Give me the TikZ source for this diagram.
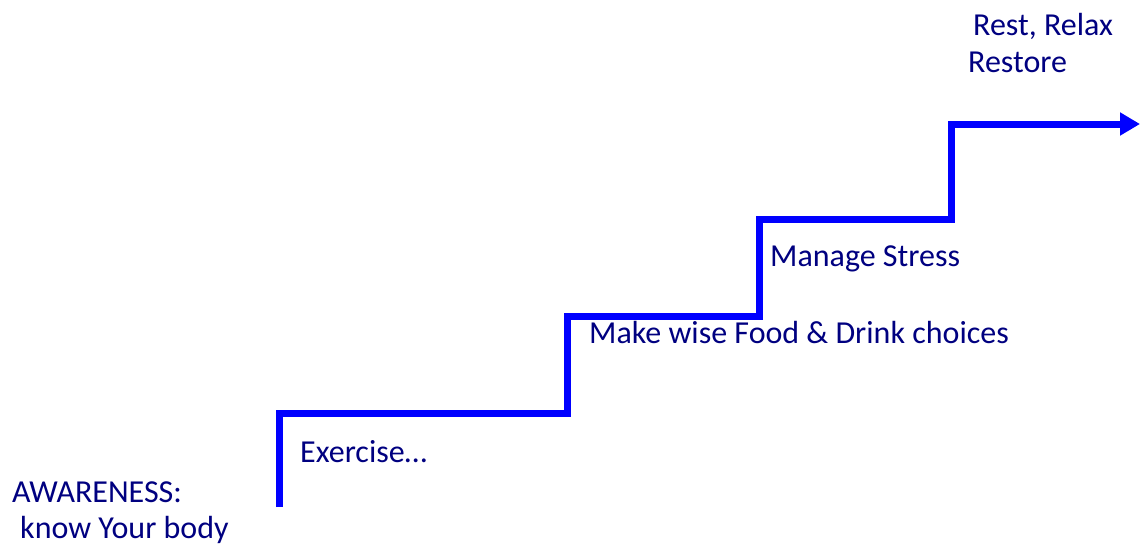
\documentclass[tikz,border=0pt]{standalone}
\usepackage{fontspec}
\setmainfont{Carlito}
\usepackage{tikz}
\usetikzlibrary{arrows.meta,positioning}
\definecolor{stairblue}{RGB}{0,0,255}
\definecolor{textnavy}{RGB}{0,0,128}

\begin{document}
\begin{tikzpicture}[
		x=1pt,y=-1pt,
		font=\fontsize{32}{38}\selectfont,
		label/.style={text=textnavy,anchor=base west,inner sep=0pt,align=left},
		stairs/.style={draw=stairblue,line width=7pt,line join=miter,
			-{Triangle[length=20pt,width=22pt]}}]
		\useasboundingbox (0,0) rectangle (1140,550);
		
		% Stair corners
		\draw
		(279,507) coordinate (s0)
		(279,413) coordinate (s1)
		(567,413) coordinate (s2)
		(567,316) coordinate (s3)
		(759,316) coordinate (s4)
		(759,219) coordinate (s5)
		(951,219) coordinate (s6)
		(951,124) coordinate (s7)
		(1140,124) coordinate (s8);
		
		\draw[stairs] (s0) -- (s1) -- (s2) -- (s3) -- (s4) -- (s5) -- (s6) -- (s7) -- (s8);
		
		% Step labels
		\node[label] (aware) at (12,502) {AWARENESS:};
		\node[label] (body) at (20,538) {know Your body};
		\node[label] (exercise) at (300,462) {Exercise…};
		\node[label] (food) at (589,343) {Make wise Food \& Drink choices};
		\node[label] (stress) at (770,266) {Manage Stress};
		\node[label] (rest) at (973,35) {Rest, Relax};
		\node[label] (restore) at (968,72) {Restore};
		
\end{tikzpicture}
\end{document}
